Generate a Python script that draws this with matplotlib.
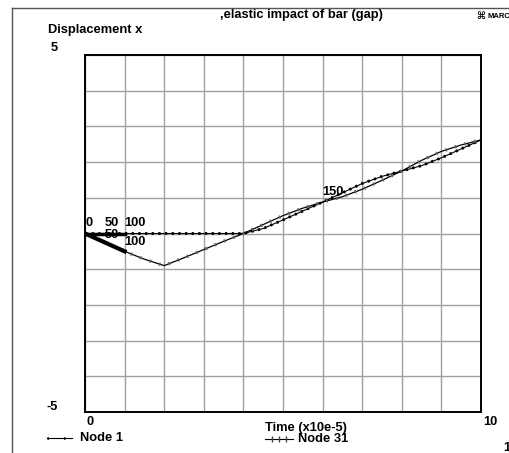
import matplotlib
matplotlib.use("Agg")
from matplotlib import pyplot as plt
from matplotlib.lines import Line2D

plt.rcParams['font.family'] = ['Liberation Sans', 'DejaVu Sans']
plt.rcParams['font.weight'] = 'bold'

# time in units of 1e-5
time = [0, 0.5, 1, 1.5, 2, 2.5, 3, 3.5, 4, 4.5, 5, 5.5, 6, 6.5, 7, 7.5, 8, 8.5, 9, 9.5, 10]
node1 = [0, 0, 0, 0, 0, 0, 0, 0, 0, 0.14, 0.38, 0.63, 0.88, 1.14, 1.40, 1.60, 1.75, 1.90, 2.12, 2.37, 2.62]
node31 = [0, -0.25, -0.5, -0.72, -0.9, -0.68, -0.45, -0.22, 0, 0.25, 0.50, 0.71, 0.88, 1.03, 1.24, 1.49, 1.75, 2.05, 2.30, 2.48, 2.62]

# increment labels: (time, displacement, text, offset)
inc_labels = [(0, 0, '0', 0.12), (0.5, 0, '50', 0.14), (1, 0, '100', 0.14),
              (0.5, -0.25, '50', 0.04), (1, -0.5, '100', 0.1), (6, 0.88, '150', 0.12)]

FS = 9.3

fig = plt.figure(figsize=(5.09, 4.53), dpi=100)
ax = fig.add_axes([85/509, 1-412/453, 396/509, 357/453])

ax.set_xlim(0, 10)
ax.set_ylim(-5, 5)
ax.set_xticks(range(11))
ax.set_yticks(range(-5, 6))
ax.set_xticklabels([])
ax.set_yticklabels([])
ax.tick_params(length=0)
ax.grid(True, color='#a0a0a0', lw=1.0)
ax.set_axisbelow(True)
for s in ax.spines.values():
    s.set_color('black')
    s.set_linewidth(1.4)

# Node 1: thin line with dense dots
ax.plot(time, node1, color='black', lw=0.8, zorder=3)
ax.plot(time, node1, color='black', lw=2.0, ls=(0, (0.8, 1.6)), zorder=3)
# Node 31: thin line with grey ticks
ax.plot(time, node31, color='black', lw=0.9, zorder=3)
ax.plot(time, node31, color='#666666', lw=2.4, ls=(0, (0.5, 2.5)), zorder=3)

# first increments drawn heavy
ax.plot(time[:3], node1[:3], color='black', lw=2.5, zorder=4)
ax.plot(time[:3], node31[:3], color='black', lw=3.0, zorder=4)

for t, d, s, off in inc_labels:
    ax.text(t, d + off, s, fontsize=FS, fontweight='bold', ha='left', va='bottom', zorder=5)

# axis end labels
ax.text(-0.68, 5.2, '5', fontsize=FS, ha='right', va='center', clip_on=False)
ax.text(-0.68, -4.87, '-5', fontsize=FS, ha='right', va='center', clip_on=False)
ax.text(0.05, -5.28, '0', fontsize=FS, ha='left', va='center', clip_on=False)
ax.text(10.05, -5.28, '10', fontsize=FS, ha='left', va='center', clip_on=False)

W, H = 509, 453
def px(x, y):
    return x / W, 1 - y / H

fig.text(*px(301, 15), ',elastic impact of bar (gap)', fontsize=FS, ha='center', va='center')
fig.text(*px(48, 30), 'Displacement x', fontsize=FS, ha='left', va='center')
fig.text(*px(306, 428), 'Time (x10e-5)', fontsize=FS, ha='center', va='center')
fig.text(*px(80, 438), 'Node 1', fontsize=FS, ha='left', va='center')
fig.text(*px(298, 439), 'Node 31', fontsize=FS, ha='left', va='center')
fig.text(*px(476, 16), '\u2318', fontsize=7, ha='left', va='center', family='DejaVu Sans')
fig.text(*px(487, 16), 'MARC', fontsize=5.5, ha='left', va='center')
fig.text(*px(503, 448), '1', fontsize=FS, ha='left', va='center')

# overlay axes in pixel units for legend samples and page frame
ax_leg = fig.add_axes([0, 0, 1, 1], facecolor='none')
ax_leg.set_xlim(0, W)
ax_leg.set_ylim(H, 0)
ax_leg.axis('off')

ax_leg.plot([47, 72], [438, 438], color='black', lw=0.8)
ax_leg.plot([47, 72], [438, 438], color='black', lw=1.8, ls=(0, (0.6, 6)))
ax_leg.plot([265, 293], [439, 439], color='black', lw=0.8)
ax_leg.plot([272, 279, 286], [439, 439, 439], ls='none', marker='|', color='#444444', markersize=4)

ax_leg.plot([12, 12], [H, 8], color='#555555', lw=1.0)
ax_leg.plot([12, W], [8, 8], color='#555555', lw=1.0)

fig.savefig('out.png', dpi=100)
